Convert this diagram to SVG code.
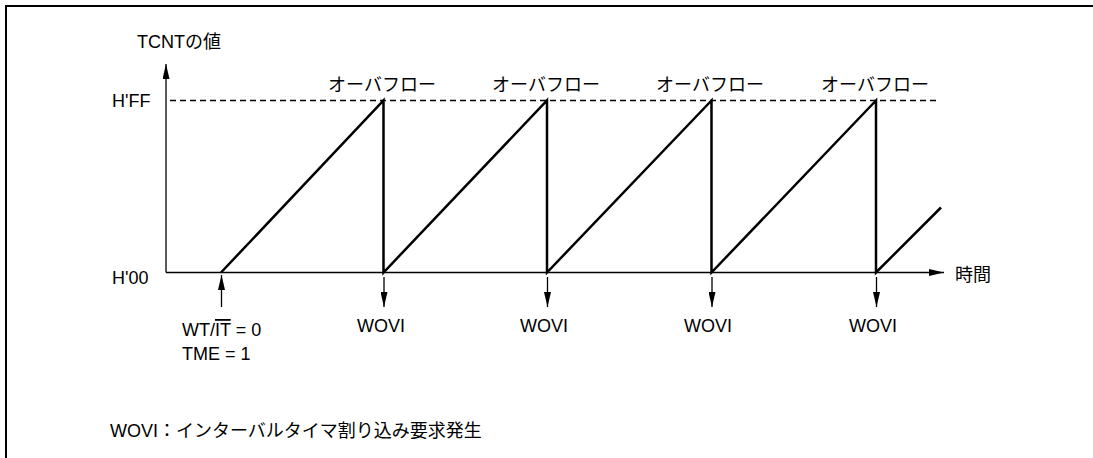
<svg xmlns="http://www.w3.org/2000/svg" width="1093" height="458" viewBox="0 0 1093 458">
<style>
text{font-family:"Liberation Sans","Noto Sans CJK JP",sans-serif;font-size:18px;fill:#000}
.jp{font-family:"Noto Sans CJK JP","Liberation Sans",sans-serif}
.ax{stroke:#000;stroke-width:1.3;fill:none}
.saw{stroke:#000;stroke-width:2.5;fill:none;stroke-linejoin:miter}
.dash{stroke:#000;stroke-width:1.3;stroke-dasharray:6 4;fill:none}
.mid{text-anchor:middle}
</style>
<defs>
<marker id="ah" viewBox="0 0 15 7" refX="15" refY="3.5" markerWidth="15" markerHeight="7" markerUnits="userSpaceOnUse" orient="auto">
<path d="M0,0 L15,3.5 L0,7 Z" fill="#000"/>
</marker>
</defs>
<rect width="1093" height="458" fill="#fff"/>
<path d="M6,460 V6 H1096" fill="none" stroke="#000" stroke-width="2"/>
<g id="axes">
<line class="ax" x1="166" y1="272.5" x2="166" y2="64" marker-end="url(#ah)"/>
<line class="ax" x1="166" y1="272.5" x2="944" y2="272.5" marker-end="url(#ah)"/>
<line class="dash" x1="170" y1="100.5" x2="938" y2="100.5"/>
</g>
<g id="labels">
<text x="137" y="48">TCNT<tspan class="jp">の値</tspan></text>
<text x="112" y="107">H'FF</text>
<text x="112" y="283.5">H'00</text>
<text class="jp" x="955" y="280.5">時間</text>
</g>
<g id="sawtooth">
<path class="saw" d="M221,272.5 L383.5,100.5 V272.5 L547,100.5 V272.5 L711.5,100.5 V272.5 L876,100.5 V272.5 L941,207.5"/>
</g>
<g id="overflow-labels">
<text class="jp mid" x="382" y="91">オーバフロー</text>
<text class="jp mid" x="546" y="91">オーバフロー</text>
<text class="jp mid" x="710" y="91">オーバフロー</text>
<text class="jp mid" x="875" y="91">オーバフロー</text>
</g>
<g id="connectors">
<line class="ax" x1="221.5" y1="307" x2="221.5" y2="275" marker-end="url(#ah)"/>
<line class="ax" x1="384" y1="277" x2="384" y2="307" marker-end="url(#ah)"/>
<line class="ax" x1="547.5" y1="277" x2="547.5" y2="307" marker-end="url(#ah)"/>
<line class="ax" x1="712" y1="277" x2="712" y2="307" marker-end="url(#ah)"/>
<line class="ax" x1="876.5" y1="277" x2="876.5" y2="307" marker-end="url(#ah)"/>
</g>
<g id="wovi-labels">
<text class="mid" x="381" y="332">WOVI</text>
<text class="mid" x="544" y="332">WOVI</text>
<text class="mid" x="708" y="332">WOVI</text>
<text class="mid" x="873" y="332">WOVI</text>
</g>
<g id="start-label">
<text x="182" y="336">WT/<tspan style="text-decoration:overline">IT</tspan> = 0</text>
<text x="182" y="360">TME = 1</text>
</g>
<g id="legend">
<text x="110" y="437">WOVI<tspan class="jp">：インターバルタイマ割り込み要求発生</tspan></text>
</g>
</svg>
